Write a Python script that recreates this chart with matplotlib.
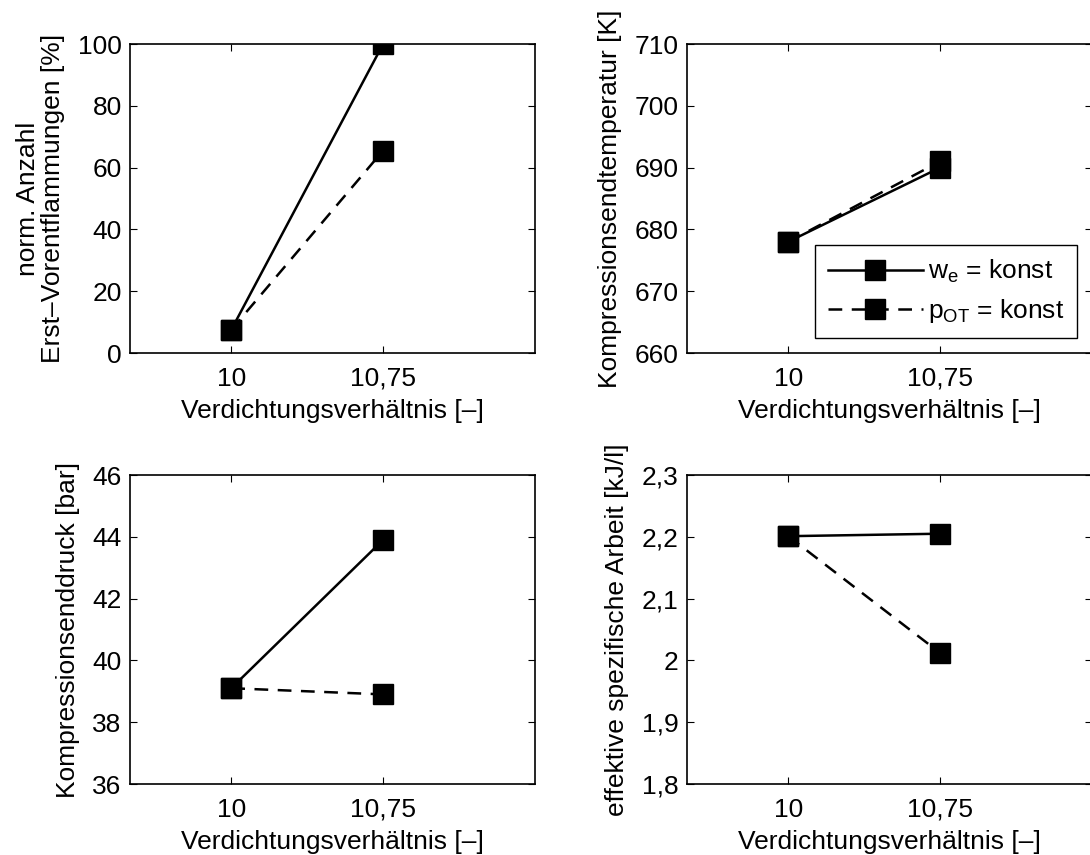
import matplotlib
matplotlib.use("Agg")
import matplotlib.pyplot as plt
from matplotlib.ticker import FuncFormatter

plt.rcParams["font.family"] = ["Liberation Sans", "DejaVu Sans"]
plt.rcParams["mathtext.fontset"] = "custom"
plt.rcParams["mathtext.rm"] = "Liberation Sans"
plt.rcParams["mathtext.it"] = "Liberation Sans"
plt.rcParams["font.size"] = 19

# compression ratio settings
ratio = [10.0, 10.75]
ratio_labels = ["10", "10,75"]

# first pre-ignitions, normalised [%]
preign_we = [7.5, 100.0]
preign_pot = [7.5, 65.5]

# end-of-compression temperature [K]
temp_we = [678.0, 690.0]
temp_pot = [678.0, 691.0]

# end-of-compression pressure [bar]
press_we = [39.1, 43.9]
press_pot = [39.1, 38.9]

# brake specific work [kJ/l]
work_we = [2.201, 2.205]
work_pot = [2.201, 2.012]

label_we = r"w$_\mathrm{e}$ = konst"
label_pot = r"p$_\mathrm{OT}$ = konst"

FS = 19

fig = plt.figure(figsize=(10.9, 8.55), dpi=100)

W, H = 1090.0, 855.0
ax_w, ax_h = 405 / W, 309 / H
lefts = [130 / W, 687 / W]
bottoms = [(H - 353) / H, (H - 784) / H]

panels = [
    (lefts[0], bottoms[0], preign_we, preign_pot, (0, 100), [0, 20, 40, 60, 80, 100],
     "norm. Anzahl\nErst–Vorentflammungen [%]", False),
    (lefts[1], bottoms[0], temp_we, temp_pot, (660, 710), [660, 670, 680, 690, 700, 710],
     "Kompressionsendtemperatur [K]", True),
    (lefts[0], bottoms[1], press_we, press_pot, (36, 46), [36, 38, 40, 42, 44, 46],
     "Kompressionsenddruck [bar]", False),
    (lefts[1], bottoms[1], work_we, work_pot, (1.8, 2.3), [1.8, 1.9, 2.0, 2.1, 2.2, 2.3],
     "effektive spezifische Arbeit [kJ/l]", False),
]


def comma_fmt(v, pos):
    s = f"{v:.10g}"
    if "." in s:
        s = f"{v:.1f}".rstrip("0").rstrip(".")
    return s.replace(".", ",")


for left, bottom, y_we, y_pot, ylim, yticks, ylabel, show_legend in panels:
    ax = fig.add_axes([left, bottom, ax_w, ax_h])
    ax.plot(ratio, y_we, color="black", linestyle="-", linewidth=1.8,
            marker="s", markersize=14, label=label_we)
    ax.plot(ratio, y_pot, color="black", linestyle=(0, (5.5, 3.8)), linewidth=1.8,
            marker="s", markersize=14, label=label_pot)
    ax.set_xlim(9.5, 11.5)
    ax.set_ylim(*ylim)
    ax.set_xticks(ratio)
    ax.set_xticklabels(ratio_labels)
    ax.set_yticks(yticks)
    ax.yaxis.set_major_formatter(FuncFormatter(comma_fmt))
    ax.tick_params(direction="in", length=5, width=0.8, top=True, right=True,
                   labelsize=FS)
    ax.tick_params(axis="x", pad=10)
    ax.tick_params(axis="y", pad=6)
    for sp in ax.spines.values():
        sp.set_linewidth(1.2)
    ax.set_xlabel("Verdichtungsverhältnis [–]", fontsize=FS, labelpad=6)
    ax.set_ylabel(ylabel, fontsize=FS, labelpad=9, linespacing=1.05)
    if show_legend:
        leg = ax.legend(loc="lower right", fontsize=FS, handlelength=3.6,
                        handletextpad=0.2, borderpad=0.5, labelspacing=0.45,
                        fancybox=False, framealpha=1, edgecolor="black",
                        borderaxespad=0.55)
        leg.get_frame().set_linewidth(1.0)

fig.savefig("out.png", dpi=100)
